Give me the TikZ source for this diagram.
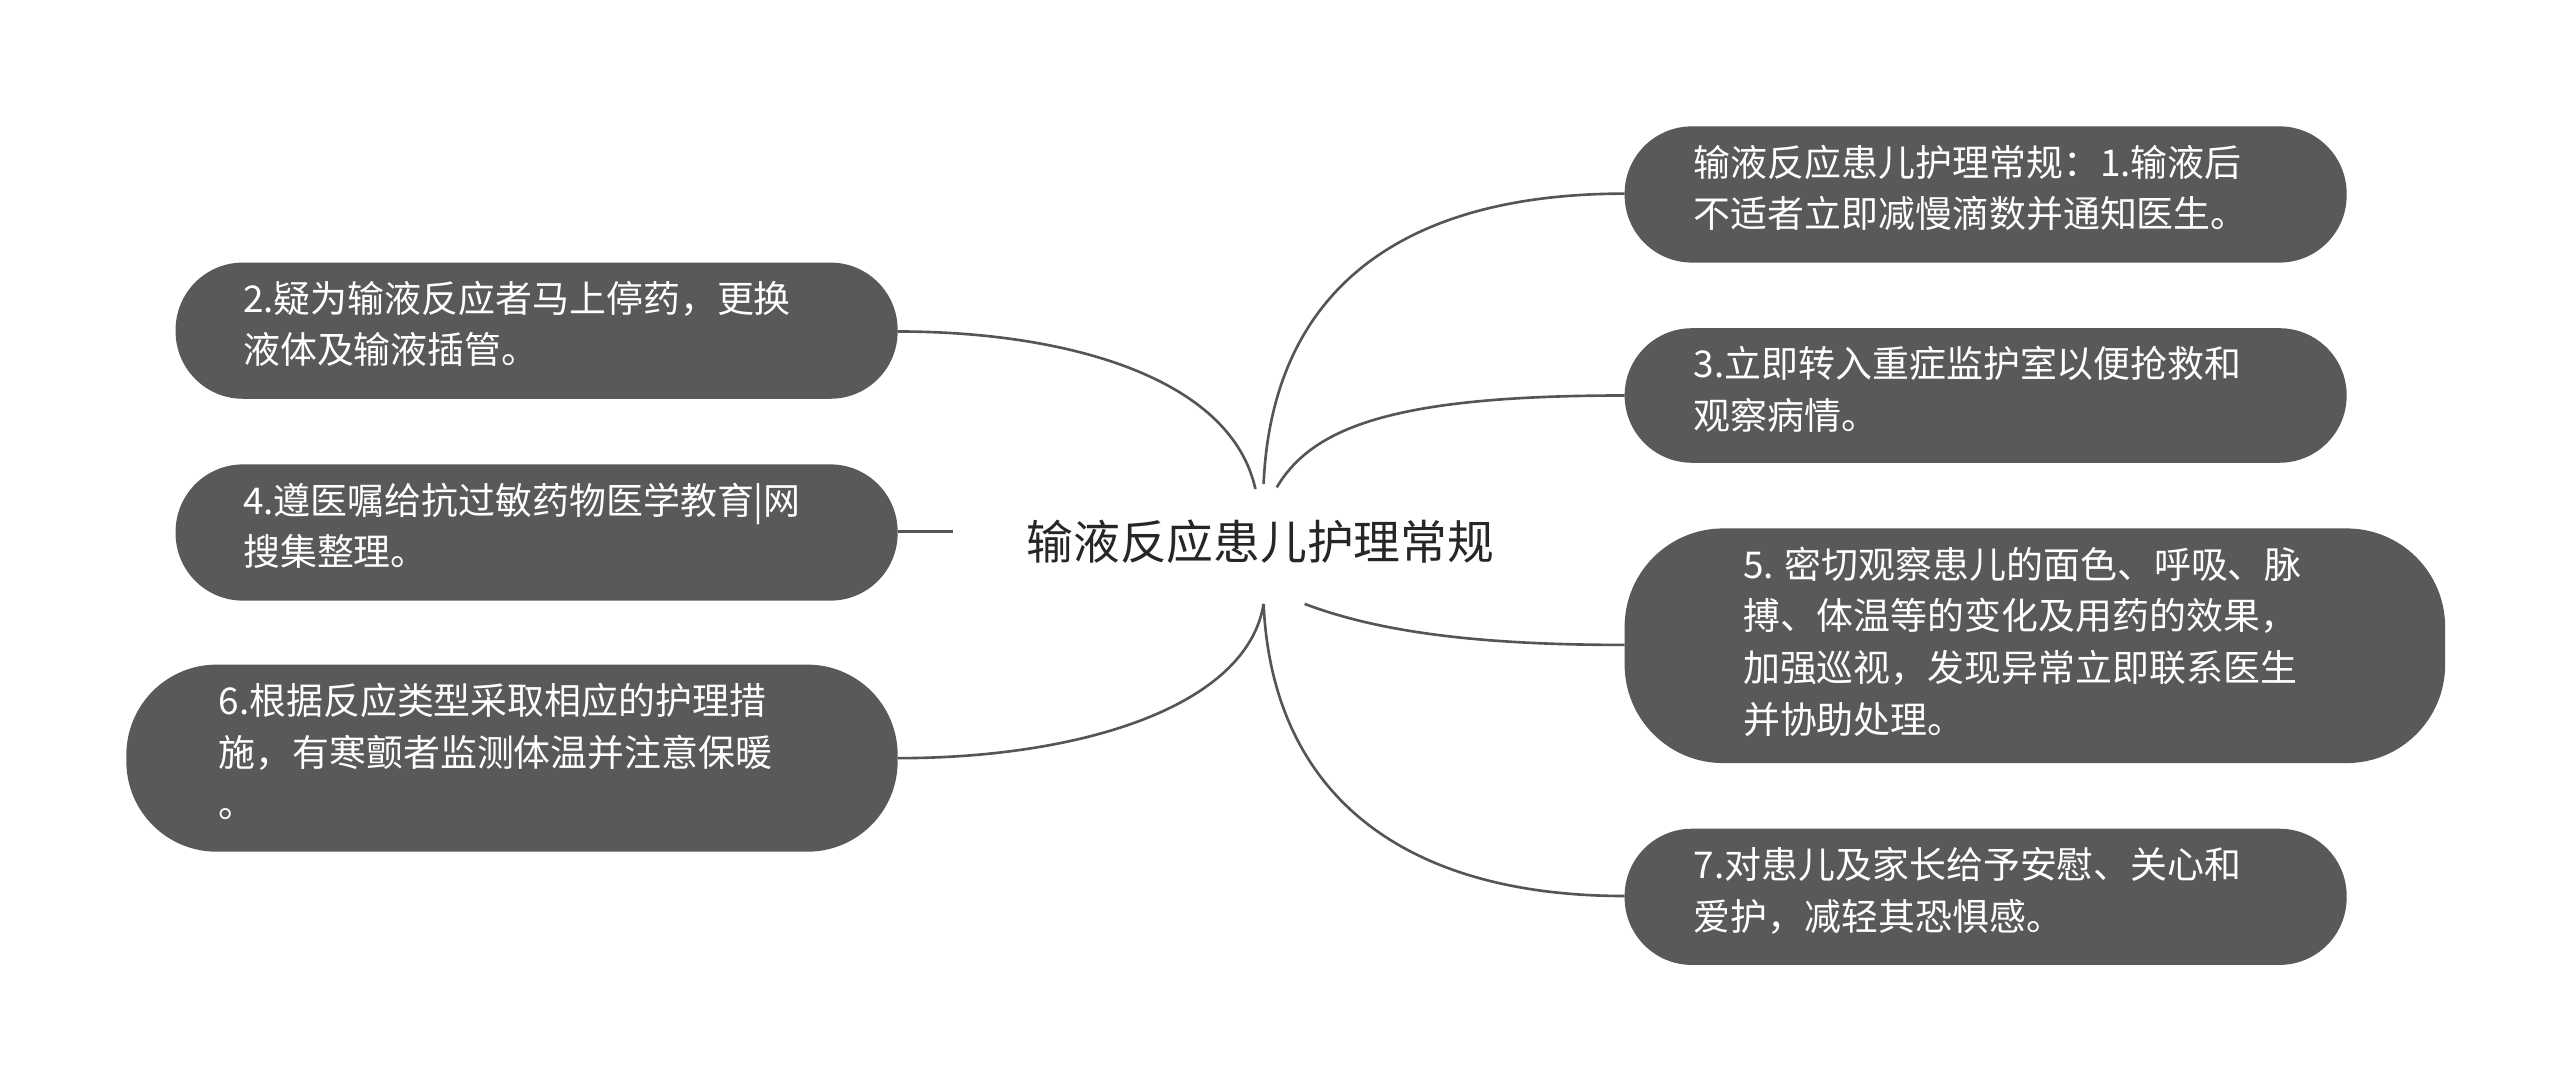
\documentclass[tikz,border=0pt]{standalone}
\usepackage{fontspec}
\setmainfont{Noto Sans CJK SC}
\begin{document}
\begin{tikzpicture}[x=1pt,y=-1pt,
  box/.style={text=white,font=\fontsize{22.5}{31.5}\selectfont,align=left,anchor=north west,inner sep=0pt},
  conn/.style={draw=linec,line width=1.6pt}]
\definecolor{boxc}{HTML}{595959}
\definecolor{linec}{HTML}{555555}
\useasboundingbox (0,0) rectangle (1560,661);
% boxes
\fill[boxc,rounded corners=41pt] (990,77) rectangle (1430,160);
\fill[boxc,rounded corners=41pt] (990,200) rectangle (1430,282);
\fill[boxc,rounded corners=60pt] (990,322) rectangle (1490,465);
\fill[boxc,rounded corners=41pt] (990,505) rectangle (1430,588);
\fill[boxc,rounded corners=41pt] (107,160) rectangle (547,243);
\fill[boxc,rounded corners=41pt] (107,283) rectangle (547,366);
\fill[boxc,rounded corners=55pt] (77,405) rectangle (547,519);
\coordinate (r1) at (990,118); \coordinate (r3) at (990,241);
\coordinate (r5) at (990,393); \coordinate (r7) at (990,546);
\coordinate (l2) at (547,202); \coordinate (l4) at (547,324); \coordinate (l6) at (547,462);
\node[font=\fontsize{28.5}{34}\selectfont,text=black!85] (c) at (768,330) {输液反应患儿护理常规};
\node[box] (t1) at (1032,88) {输液反应患儿护理常规：1.输液后\\不适者立即减慢滴数并通知医生。};
\node[box] (t3) at (1032,211) {3.立即转入重症监护室以便抢救和\\观察病情。};
\node[box] (t5) at (1062,333) {5. 密切观察患儿的面色、呼吸、脉\\搏、体温等的变化及用药的效果，\\加强巡视，发现异常立即联系医生\\并协助处理。};
\node[box] (t7) at (1032,516) {7.对患儿及家长给予安慰、关心和\\爱护，减轻其恐惧感。};
\node[box] (t2) at (148,171) {2.疑为输液反应者马上停药，更换\\液体及输液插管。};
\node[box] (t4) at (148,294) {4.遵医嘱给抗过敏药物医学教育|网\\搜集整理。};
\node[box] (t6) at (133,416) {6.根据反应类型采取相应的护理措\\施，有寒颤者监测体温并注意保暖\\。};
% connectors
\draw[conn] (770,295) .. controls (775,180) and (850,118) .. (r1);
\draw[conn] (778,297) .. controls (800,260) and (850,241) .. (r3);
\draw[conn] (795,368) .. controls (840,385) and (900,393) .. (r5);
\draw[conn] (770,368) .. controls (775,480) and (850,546) .. (r7);
\draw[conn] (765,298) .. controls (750,230) and (650,202) .. (l2);
\draw[conn] (l4) -- (581,324);
\draw[conn] (770,368) .. controls (760,430) and (660,462) .. (l6);
\end{tikzpicture}
\end{document}
